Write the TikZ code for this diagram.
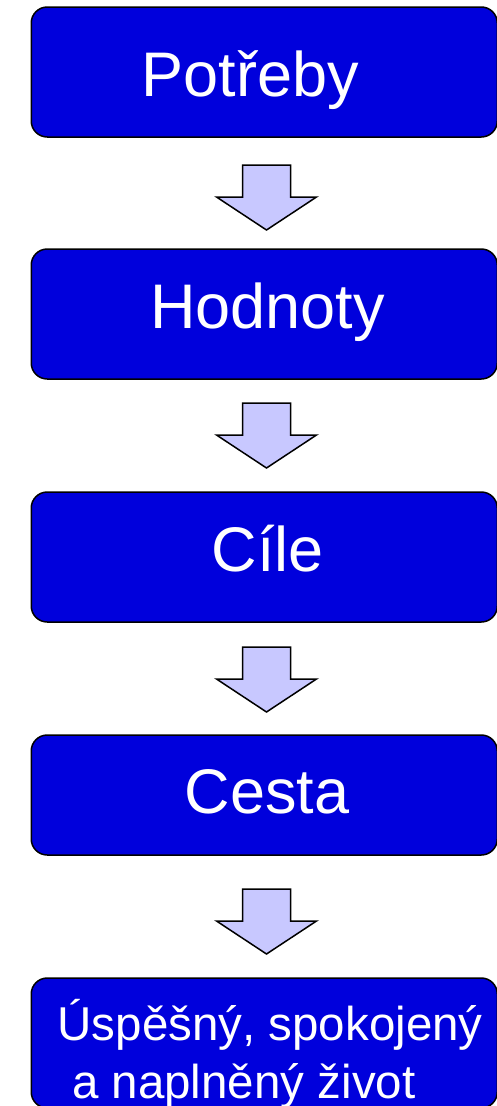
\documentclass[tikz,border=0pt]{standalone}
\usepackage{fontspec}
\setmainfont{Liberation Sans}
\usepackage{xcolor}
\usepackage{tikz}
\usetikzlibrary{positioning,calc}
\definecolor{boxblue}{RGB}{0,0,220}
\definecolor{arrowfill}{RGB}{200,200,255}

\begin{document}
\begin{tikzpicture}[x=1pt,y=-1pt,
    stage/.style={draw=black, line width=1.5pt, fill=boxblue, rounded corners=16pt, minimum width=466pt, inner sep=0pt},
    stagetext/.style={text=white, font=\fontsize{63}{75}\selectfont, anchor=base, inner sep=0pt},
    lasttext/.style={text=white, font=\fontsize{47.5}{57}\selectfont, anchor=base west, inner sep=0pt},
    blockarrow/.style={draw=black, line width=1.5pt, fill=arrowfill, line join=miter}]
    \useasboundingbox (0,0) rectangle (497,1106);
    \clip (0,0) rectangle (497,1106);
    \node[stage, minimum height=130pt] (potreby) at (264.25,72) {};
    \node[stage, minimum height=130pt] (hodnoty) at (264.25,314) {};
    \node[stage, minimum height=130pt] (cile) at (264.25,557) {};
    \node[stage, minimum height=120pt] (cesta) at (264.25,795) {};
    \node[stage, minimum height=130pt] (zivot) at (264.25,1043) {};
    \node[stagetext] (tpotreby) at (250.5,96.7) {Potřeby};
    \node[stagetext] (thodnoty) at (267.5,328.3) {Hodnoty};
    \node[stagetext] (tcile) at (268,571) {Cíle};
    \node[stagetext] (tcesta) at (267,813) {Cesta};
    \node[lasttext] (tzivota) at (57.5,1040.5) {Úspěšný, spokojený};
    \node[lasttext] (tzivotb) at (72,1098) {a naplněný život};
    \foreach \y in {165,403,647,889}
        \draw[blockarrow] (242.5,\y) -- (290.5,\y) -- (290.5,\y+32) -- (316.5,\y+32)
            -- (266.5,\y+65) -- (216.5,\y+32) -- (242.5,\y+32) -- cycle;
\end{tikzpicture}
\end{document}
